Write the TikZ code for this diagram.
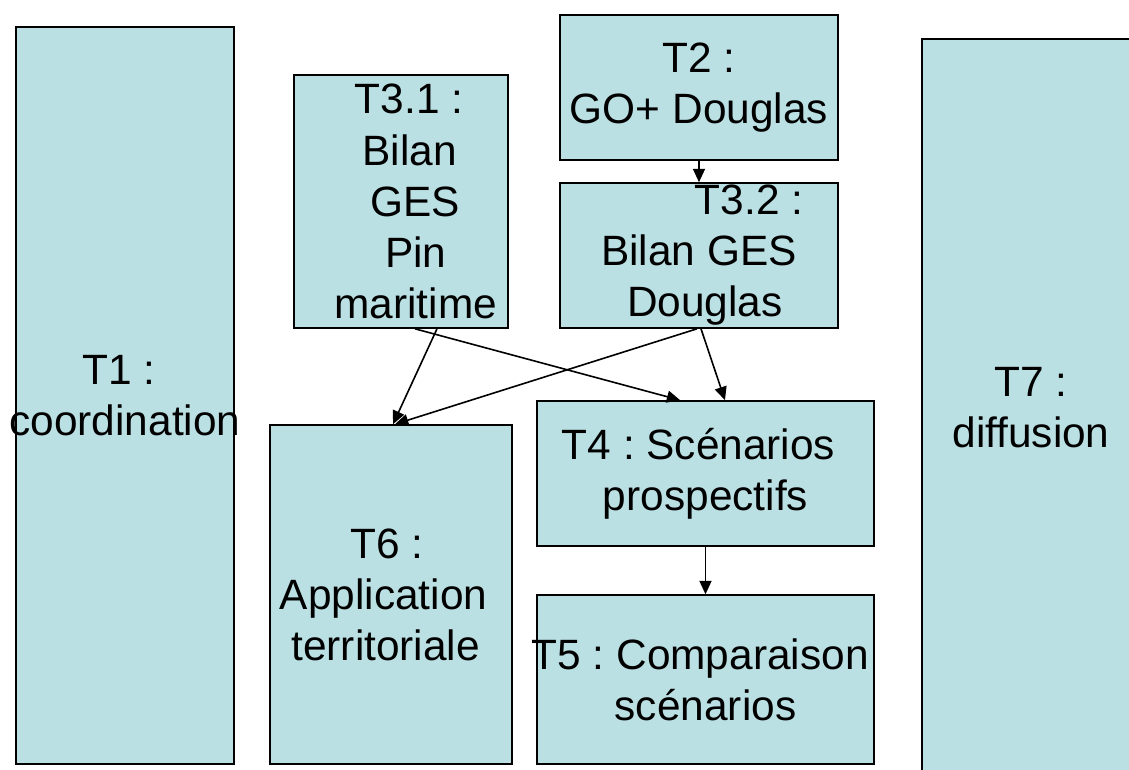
\documentclass[tikz,border=0pt]{standalone}
\usepackage{fontspec}
\setmainfont{Liberation Sans}
\frenchspacing
\usepackage{tikz}
\usetikzlibrary{arrows.meta}
\definecolor{taskblue}{RGB}{187,224,227}

\begin{document}
\begin{tikzpicture}[x=0.75pt, y=-0.75pt,
    task/.style={draw, rectangle, fill=taskblue, line width=1.2pt, inner sep=0pt,
        align=center, font=\fontsize{31.8}{38.3}\selectfont},
    flow/.style={-{Triangle[length=10pt,width=9pt]}, line width=1.2pt}]
    \useasboundingbox (0,0) rectangle (1129,769);

    \node[task, minimum width=163.5pt, minimum height=552.75pt] (t1) at (125,395.5) {T1 :\hspace*{9pt}\\\makebox[0pt]{coordination}};
    \node[task, minimum width=160.5pt, minimum height=189.75pt] (t31) at (401,201.5)
        {\hspace*{12pt}T3.1 :\\\hspace*{13pt}Bilan\\\hspace*{21pt}GES\\\hspace*{22pt}Pin\\\hspace*{22pt}maritime};
    \node[task, minimum width=208.5pt, minimum height=108.75pt] (t2) at (699,87.5) {T2 :\\GO+ Douglas};
    \node[task, minimum width=208.5pt, minimum height=108.75pt] (t32) at (699,255.5) {\hspace*{75pt}T3.2 :\\Bilan GES\\\hspace*{9pt}Douglas};
    \node[task, minimum width=181.5pt, minimum height=254.25pt] (t6) at (391,594.5)
        {\makebox[0pt]{\hspace*{-6pt}T6 :}\\\makebox[0pt]{\hspace*{-11pt}Application}\\\makebox[0pt]{\hspace*{-8pt}territoriale}};
    \node[task, minimum width=252.75pt, minimum height=108.75pt] (t4) at (705.5,473.5) {T4 : Scénarios\hspace*{10.5pt}\\prospectifs};
    \node[task, minimum width=252.75pt, minimum height=126.75pt] (t5) at (705.5,679.5) {\makebox[0pt]{\hspace*{-8pt}T5 : Comparaison}\\scénarios};
    \node[task, minimum width=163.5pt, minimum height=553.5pt] (t7) at (1031,408) {T7 :\\diffusion};

    \draw[flow] (t2) -- (t32);
    \draw[flow] ([xshift=27pt]t31.south) -- ([xshift=1.5pt]t6.north);
    \draw[flow] ([xshift=10.5pt]t31.south) -- ([xshift=-19pt]t4.north);
    \draw[flow] ([xshift=-1.5pt]t32.south) -- ([xshift=3pt]t6.north);
    \draw[flow] ([xshift=1.5pt]t32.south) -- ([xshift=14.6pt]t4.north);
    \draw[flow] (t4) -- (t5);
\end{tikzpicture}
\end{document}
